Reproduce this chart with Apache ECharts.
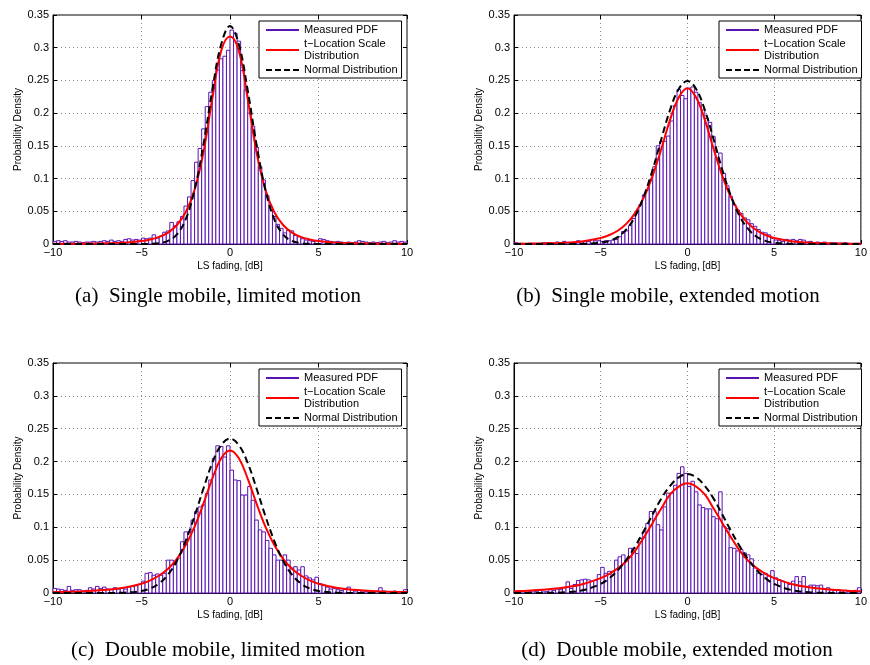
<!DOCTYPE html>
<html>
<head>
<meta charset="utf-8">
<script src="https://cdn.jsdelivr.net/npm/echarts@6/dist/echarts.min.js"></script>
<style>
  html, body { margin: 0; padding: 0; background: #fff; }
  #main { width: 870px; height: 665px; }
</style>
</head>
<body>
<div id="main"></div>
<script>
// histogram bins: 100 bins of 0.2 dB from -10 to 10
const BIN_START = -10
const BIN_WIDTH = 0.2

// measured PDF (bin heights), one array per panel
const histA = [
  0.004, 0.005, 0.004, 0.005, 0.003, 0.003, 0.004, 0.003, 0.002, 0.003,
  0.003, 0.004, 0.003, 0.004, 0.005, 0.004, 0.006, 0.004, 0.005, 0.004,
  0.007, 0.008, 0.006, 0.007, 0.006, 0.009, 0.008, 0.009, 0.014, 0.009,
  0.012, 0.018, 0.02, 0.033, 0.028, 0.034, 0.042, 0.058, 0.072, 0.097,
  0.125, 0.146, 0.176, 0.21, 0.232, 0.25, 0.266, 0.283, 0.287, 0.296,
  0.327, 0.322, 0.31, 0.265, 0.235, 0.2, 0.18, 0.148, 0.118, 0.098,
  0.074, 0.057, 0.042, 0.03, 0.024, 0.017, 0.021, 0.02, 0.013, 0.011,
  0.008, 0.006, 0.005, 0.004, 0.005, 0.008, 0.007, 0.005, 0.004, 0.003,
  0.004, 0.003, 0.002, 0.003, 0.002, 0.003, 0.005, 0.004, 0.003, 0.002,
  0.003, 0.002, 0.003, 0.004, 0.002, 0.003, 0.005, 0.003, 0.004, 0.003
]
const histB = [
  0.002, 0.001, 0.001, 0, 0.001, 0.001, 0, 0.001, 0.002, 0.002,
  0.002, 0.001, 0.003, 0.002, 0.004, 0.002, 0.002, 0.003, 0.005, 0.003,
  0.004, 0.004, 0.007, 0.005, 0.005, 0.004, 0.005, 0.005, 0.006, 0.007,
  0.011, 0.019, 0.02, 0.028, 0.039, 0.05, 0.06, 0.075, 0.083, 0.097,
  0.118, 0.15, 0.157, 0.157, 0.165, 0.188, 0.212, 0.236, 0.227, 0.222,
  0.238, 0.24, 0.232, 0.216, 0.205, 0.192, 0.186, 0.164, 0.131, 0.139,
  0.108, 0.089, 0.073, 0.06, 0.052, 0.047, 0.04, 0.037, 0.031, 0.027,
  0.022, 0.018, 0.017, 0.014, 0.009, 0.006, 0.005, 0.004, 0.007, 0.006,
  0.007, 0.005, 0.007, 0.006, 0.003, 0.004, 0.002, 0.003, 0.002, 0.003,
  0.001, 0.002, 0.002, 0.001, 0.001, 0.002, 0.001, 0, 0.001, 0.001
]
const histC = [
  0.007, 0.006, 0.005, 0.004, 0.01, 0.004, 0.005, 0.005, 0.003, 0.004,
  0.008, 0.006, 0.01, 0.007, 0.009, 0.006, 0.005, 0.008, 0.006, 0.007,
  0.006, 0.009, 0.01, 0.011, 0.013, 0.018, 0.03, 0.031, 0.027, 0.029,
  0.027, 0.03, 0.05, 0.05, 0.045, 0.053, 0.078, 0.093, 0.093, 0.111,
  0.124, 0.131, 0.134, 0.151, 0.172, 0.205, 0.224, 0.223, 0.207, 0.224,
  0.187, 0.172, 0.171, 0.149, 0.149, 0.162, 0.141, 0.111, 0.096, 0.093,
  0.08, 0.068, 0.058, 0.05, 0.05, 0.058, 0.05, 0.038, 0.04, 0.035,
  0.04, 0.026, 0.023, 0.02, 0.024, 0.014, 0.012, 0.009, 0.006, 0.007,
  0.005, 0.004, 0.006, 0.009, 0.005, 0.003, 0.004, 0.003, 0.002, 0.003,
  0.002, 0.003, 0.008, 0.003, 0.002, 0.002, 0.003, 0.002, 0.001, 0.005
]
const histD = [
  0.002, 0.003, 0.002, 0.001, 0.002, 0.003, 0.002, 0.004, 0.003, 0.002,
  0.005, 0.004, 0.006, 0.005, 0.008, 0.017, 0.007, 0.013, 0.019, 0.02,
  0.021, 0.02, 0.018, 0.019, 0.028, 0.039, 0.03, 0.033, 0.033, 0.05,
  0.055, 0.058, 0.05, 0.068, 0.068, 0.06, 0.083, 0.093, 0.106, 0.124,
  0.124, 0.104, 0.096, 0.131, 0.152, 0.152, 0.164, 0.182, 0.192, 0.182,
  0.162, 0.17, 0.154, 0.134, 0.13, 0.128, 0.128, 0.116, 0.113, 0.154,
  0.101, 0.098, 0.069, 0.068, 0.064, 0.066, 0.061, 0.058, 0.052, 0.038,
  0.03, 0.028, 0.03, 0.026, 0.034, 0.023, 0.02, 0.018, 0.016, 0.013,
  0.018, 0.025, 0.017, 0.025, 0.01, 0.012, 0.012, 0.011, 0.012, 0.006,
  0.008, 0.005, 0.004, 0.005, 0.003, 0.004, 0.002, 0.003, 0.004, 0.008
]

// x positions where the fitted curves were read
const curveX = [-10, -9, -8, -7, -6, -5, -4.5, -4, -3.5, -3, -2.5, -2, -1.5, -1, -0.5, 0,
  0.5, 1, 1.5, 2, 2.5, 3, 3.5, 4, 4.5, 5, 6, 7, 8, 9, 10]

// t-Location Scale fits
const tlocA = [0.0002, 0.0003, 0.0006, 0.0011, 0.0021, 0.0045, 0.0069, 0.0108, 0.0175, 0.029, 0.049, 0.083, 0.14, 0.222, 0.295, 0.317,
  0.295, 0.222, 0.14, 0.083, 0.049, 0.029, 0.0175, 0.0108, 0.0069, 0.0045, 0.0021, 0.0011, 0.0006, 0.0003, 0.0002]
const tlocB = [0.0003, 0.0006, 0.0011, 0.0021, 0.0042, 0.0091, 0.0137, 0.0207, 0.0315, 0.048, 0.072, 0.105, 0.146, 0.19, 0.224, 0.238,
  0.224, 0.19, 0.146, 0.105, 0.072, 0.048, 0.0315, 0.0207, 0.0137, 0.0091, 0.0042, 0.0021, 0.0011, 0.0006, 0.0003]
const tlocC = [0.0014, 0.002, 0.0031, 0.0048, 0.0081, 0.0142, 0.0193, 0.0266, 0.037, 0.052, 0.073, 0.101, 0.136, 0.174, 0.205, 0.217,
  0.205, 0.174, 0.136, 0.101, 0.073, 0.052, 0.037, 0.0266, 0.0193, 0.0142, 0.0081, 0.0048, 0.0031, 0.002, 0.0014]
const tlocD = [0.0027, 0.0039, 0.0057, 0.0087, 0.0138, 0.0226, 0.0291, 0.0378, 0.049, 0.065, 0.085, 0.107, 0.129, 0.15, 0.162, 0.167,
  0.162, 0.15, 0.129, 0.107, 0.085, 0.065, 0.049, 0.0378, 0.0291, 0.0226, 0.0138, 0.0087, 0.0057, 0.0039, 0.0027]

// normal fits
const normA = [0, 0, 0, 0, 0, 0.0001, 0.0003, 0.0013, 0.0047, 0.0146, 0.038, 0.083, 0.152, 0.235, 0.305, 0.333,
  0.305, 0.235, 0.152, 0.083, 0.038, 0.0146, 0.0047, 0.0013, 0.0003, 0.0001, 0, 0, 0, 0, 0]
const normB = [0, 0, 0, 0, 0.0002, 0.0019, 0.0048, 0.011, 0.023, 0.043, 0.074, 0.114, 0.161, 0.205, 0.237, 0.249,
  0.237, 0.205, 0.161, 0.114, 0.074, 0.043, 0.023, 0.011, 0.0048, 0.0019, 0.0002, 0, 0, 0, 0]
const normC = [0, 0, 0, 0.0001, 0.0005, 0.0031, 0.007, 0.0146, 0.028, 0.049, 0.0795, 0.117, 0.159, 0.198, 0.225, 0.235,
  0.225, 0.198, 0.159, 0.117, 0.0795, 0.049, 0.028, 0.0146, 0.007, 0.0031, 0.0005, 0.0001, 0, 0, 0]
const normD = [0, 0.0001, 0.0003, 0.0012, 0.0045, 0.0138, 0.0225, 0.0349, 0.0513, 0.0717, 0.095, 0.12, 0.144, 0.163, 0.176, 0.181,
  0.176, 0.163, 0.144, 0.12, 0.095, 0.0717, 0.0513, 0.0349, 0.0225, 0.0138, 0.0045, 0.0012, 0.0003, 0.0001, 0]

const captions = [
  '(a)  Single mobile, limited motion',
  '(b)  Single mobile, extended motion',
  '(c)  Double mobile, limited motion',
  '(d)  Double mobile, extended motion'
]
const seriesNames = ['Measured PDF', 't\u2212Location Scale Distribution', 'Normal Distribution']

const panels = [
  { hist: histA, tloc: tlocA, norm: normA },
  { hist: histB, tloc: tlocB, norm: normB },
  { hist: histC, tloc: tlocC, norm: normC },
  { hist: histD, tloc: tlocD, norm: normD }
]

// layout of the 2x2 figure (pixels)
const layout = [
  { left: 53, top: 15, width: 354, height: 229, legendLeft: 259, legendTop: 21, capX: 218, capY: 296 },
  { left: 514, top: 15, width: 353, height: 229, legendLeft: 719, legendTop: 21, capX: 668, capY: 296 },
  { left: 53, top: 363, width: 354, height: 230, legendLeft: 259, legendTop: 369, capX: 218, capY: 650 },
  { left: 514, top: 363, width: 353, height: 230, legendLeft: 719, legendTop: 369, capX: 677, capY: 650 }
]

const PURPLE = '#5a14b4'
const SANS = "'Liberation Sans', Arial, Helvetica, sans-serif"
const SERIF = "'Liberation Serif', 'Times New Roman', serif"

// legend samples: solid and dashed strokes as path icons
const ICON_SOLID = 'path://M0,0H33V2H0Z'
const ICON_DASHED = 'path://M0,0H6V2H0Z M9,0H15V2H9Z M18,0H24V2H18Z M27,0H33V2H27Z'

function minus(v) {
  return String(v).replace('-', '\u2212')
}

(function () {
  let myChart = echarts.init(document.getElementById('main'), null, { renderer: 'canvas' })

  let grid = [], xAxis = [], yAxis = [], series = [], legend = [], graphic = []

  panels.forEach(function (p, k) {
    let L = layout[k]
    grid.push({
      left: L.left, top: L.top, width: L.width, height: L.height,
      show: true, borderColor: '#000', borderWidth: 1, backgroundColor: '#fff'
    })

    // bottom / top x axes
    xAxis.push({
      type: 'value', gridIndex: k, min: -10, max: 10, interval: 5,
      name: 'LS fading, [dB]', nameLocation: 'middle', nameGap: 17,
      nameTextStyle: { fontFamily: SANS, fontSize: 10, color: '#000' },
      axisLine: { onZero: false, lineStyle: { color: '#000', width: 1 } },
      axisTick: { inside: true, length: 4, lineStyle: { color: '#000' } },
      axisLabel: { fontFamily: SANS, fontSize: 11, color: '#000', margin: 3, formatter: minus },
      splitLine: { show: true, lineStyle: { color: '#8c8c8c', type: [1, 3], width: 1 } }
    })
    xAxis.push({
      type: 'value', gridIndex: k, min: -10, max: 10, interval: 5, position: 'top',
      axisLine: { show: false, onZero: false },
      axisTick: { inside: true, length: 4, lineStyle: { color: '#000' } },
      axisLabel: { show: false },
      splitLine: { show: false }
    })
    // left / right y axes
    yAxis.push({
      type: 'value', gridIndex: k, min: 0, max: 0.35, interval: 0.05,
      name: 'Probability Density', nameLocation: 'middle', nameGap: 29,
      nameTextStyle: { fontFamily: SANS, fontSize: 10, color: '#000' },
      axisLine: { show: true, onZero: false, lineStyle: { color: '#000', width: 1 } },
      axisTick: { show: true, inside: true, length: 4, lineStyle: { color: '#000' } },
      axisLabel: { fontFamily: SANS, fontSize: 11, color: '#000', margin: 4 },
      splitLine: { show: true, lineStyle: { color: '#8c8c8c', type: [1, 3], width: 1 } }
    })
    yAxis.push({
      type: 'value', gridIndex: k, min: 0, max: 0.35, interval: 0.05, position: 'right',
      axisLine: { show: false, onZero: false },
      axisTick: { show: true, inside: true, length: 4, lineStyle: { color: '#000' } },
      axisLabel: { show: false },
      splitLine: { show: false }
    })

    // histogram bars drawn through the axes
    let histData = p.hist.map(function (h, i) {
      let x0 = BIN_START + i * BIN_WIDTH
      return [x0, x0 + BIN_WIDTH, h]
    })
    series.push({
      name: 'hist' + k,
      type: 'custom',
      xAxisIndex: 2 * k, yAxisIndex: 2 * k,
      z: 2,
      encode: { x: [0, 1], y: 2 },
      data: histData,
      renderItem: function (params, api) {
        let p0 = api.coord([api.value(0), api.value(2)])
        let p1 = api.coord([api.value(1), 0])
        return {
          type: 'rect',
          shape: { x: p0[0], y: p0[1], width: p1[0] - p0[0], height: p1[1] - p0[1] },
          style: { fill: '#fff', stroke: PURPLE, lineWidth: 1 }
        }
      }
    })
    // legend-only entry for the histogram
    series.push({
      name: seriesNames[0], type: 'line', xAxisIndex: 2 * k, yAxisIndex: 2 * k,
      symbol: 'none', data: [], color: PURPLE, lineStyle: { color: PURPLE, width: 2 }
    })
    series.push({
      name: seriesNames[1], type: 'line', xAxisIndex: 2 * k, yAxisIndex: 2 * k,
      symbol: 'none', smooth: 0.4, z: 4, color: '#ff0000',
      lineStyle: { color: '#ff0000', width: 2 },
      data: curveX.map(function (x, i) { return [x, p.tloc[i]] })
    })
    series.push({
      name: seriesNames[2], type: 'line', xAxisIndex: 2 * k, yAxisIndex: 2 * k,
      symbol: 'none', smooth: 0.4, z: 5, color: '#000',
      lineStyle: { color: '#000', width: 2, type: [7, 4] },
      data: curveX.map(function (x, i) { return [x, p.norm[i]] })
    })

    legend.push({
      data: [
        { name: seriesNames[0], icon: ICON_SOLID, itemStyle: { color: PURPLE } },
        { name: seriesNames[1], icon: ICON_SOLID, itemStyle: { color: '#ff0000' } },
        { name: seriesNames[2], icon: ICON_DASHED, itemStyle: { color: '#000' } }
      ],
      orient: 'vertical',
      left: L.legendLeft, top: L.legendTop,
      padding: [3, 4, 2, 7],
      itemGap: 2,
      itemWidth: 33, itemHeight: 12,
      backgroundColor: '#fff',
      borderColor: '#000', borderWidth: 1,
      selectedMode: false,
      textStyle: { fontFamily: SANS, fontSize: 11, color: '#000', lineHeight: 12 },
      formatter: function (name) {
        return name === seriesNames[1] ? 't\u2212Location Scale\nDistribution' : name
      }
    })

    graphic.push({
      type: 'text', x: L.capX, y: L.capY,
      style: {
        text: captions[k], align: 'center', verticalAlign: 'middle',
        font: '21px ' + SERIF, fill: '#000'
      }
    })
  })

  let option = {
    animation: false,
    backgroundColor: '#fff',
    grid: grid,
    xAxis: xAxis,
    yAxis: yAxis,
    legend: legend,
    series: series,
    graphic: graphic
  }

  myChart.setOption(option)
})();
</script>
</body>
</html>
